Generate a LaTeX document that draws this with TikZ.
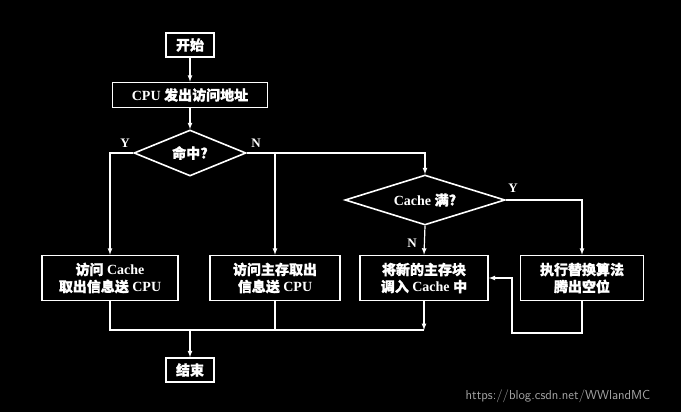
\documentclass[tikz,border=0pt]{standalone}
\usepackage{fontspec}
\setmainfont{Liberation Serif}
\newfontfamily\cjk{Noto Sans CJK SC}[FakeBold=1.2]
\usetikzlibrary{shapes.geometric, arrows}
\tikzset{
  box/.style={draw=white, line width=1.6pt, text=white, align=center, inner sep=0pt, font=\fontsize{14}{17}\selectfont\bfseries},
  cond/.style={draw=white, line width=1.6pt, text=white, diamond, aspect=2.4, inner sep=0pt, font=\fontsize{14}{17}\selectfont\bfseries},
  flow/.style={draw=white, line width=1.2pt, -latex},
  line/.style={draw=white, line width=1.2pt},
  yn/.style={text=white, font=\fontsize{13}{15}\selectfont\bfseries}
}
\begin{document}
\begin{tikzpicture}[x=1pt, y=-1pt]
\fill[black] (0,0) rectangle (681,412);
\useasboundingbox (0,0) rectangle (681,412);
% boxes
\node[box, minimum width=48pt, minimum height=24pt] (start) at (190,45) {\cjk 开始};
\node[box, minimum width=155pt, minimum height=25pt] (addr) at (190,95) {CPU {\cjk 发出访问地址}};
\node[cond, minimum width=112pt, minimum height=46pt] (hit) at (190,153) {\cjk 命中?};
\node[cond, minimum width=160pt, minimum height=50pt] (full) at (425,200) {Cache {\cjk 满?}};
\node[box, minimum width=136pt, minimum height=45pt] (readc) at (110,278) {{\cjk 访问} Cache\\{\cjk 取出信息送} CPU};
\node[box, minimum width=130pt, minimum height=45pt] (readm) at (275,278) {{\cjk 访问主存取出}\\{\cjk 信息送} CPU};
\node[box, minimum width=128pt, minimum height=45pt] (load) at (424,278) {{\cjk 将新的主存块}\\{\cjk 调入} Cache {\cjk 中}};
\node[box, minimum width=123pt, minimum height=45pt] (repl) at (582,278) {{\cjk 执行替换算法}\\{\cjk 腾出空位}};
\node[box, minimum width=48pt, minimum height=24pt] (stop) at (190,370) {\cjk 结束};
\coordinate (join) at (190,330);
% connectors
\draw[flow] (start) -- (addr);
\draw[flow] (addr) -- (hit);
\draw[flow] (hit.west) -| (readc.north);
\draw[flow] (hit.east) -| (full.north);
\draw[flow] (275,153) -- (readm.north);
\draw[flow] (full.south) -- (load.north);
\draw[flow] (full.east) -| (repl.north);
\draw[flow] (repl.south) |- (512,333) |- (load.east);
\draw[line] (readc.south) |- (join);
\draw[line] (readm.south) -- (275,330);
\draw[flow] (load.south) -- (424,330);
\draw[line] (424,330) -- (join);
\draw[flow] (join) -- (stop);
% labels
\node[yn] at (125,143) {Y};
\node[yn] at (256,143) {N};
\node[yn] at (513,188) {Y};
\node[yn] at (412,243) {N};
\node[text=gray!70, font=\fontsize{13}{15}\selectfont\sffamily] at (558,396) {https://blog.csdn.net/WWlandMC};
\end{tikzpicture}
\end{document}
